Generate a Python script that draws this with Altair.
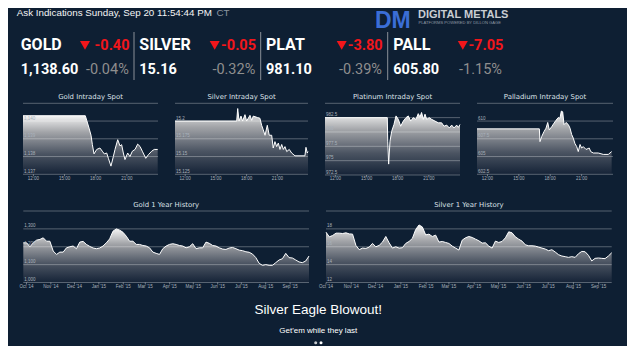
import altair as alt
import pandas as pd

BG = "#0e1f33"
OFF = 8.0


def X(v):
    return v - OFF


def Y(v):
    return v - OFF


# ---------------- data ----------------
header_text = "Ask Indications Sunday, Sep 20 11:54:44 PM"
header_tz = "CT"

metals = ["GOLD", "SILVER", "PLAT", "PALL"]
prices = ["1,138.60", "15.16", "981.10", "605.80"]
changes = ["-0.40", "-0.05", "-3.80", "-7.05"]
pcts = ["-0.04%", "-0.32%", "-0.39%", "-1.15%"]

intraday_titles = ["Gold Intraday Spot", "Silver Intraday Spot",
                   "Platinum Intraday Spot", "Palladium Intraday Spot"]
time_ticks = [12, 15, 18, 21]
time_labels = ["12:00", "15:00", "18:00", "21:00"]

gold_h = [11, 17.0, 17.13, 17.36, 17.55, 17.68, 17.84, 18.1, 18.41, 18.64, 18.83,
          19.06, 19.22, 19.47, 19.7, 19.86, 20.12, 20.34, 20.5, 20.66, 20.82, 21.08,
          21.3, 21.53, 21.79, 22.04, 22.27, 22.49, 22.82, 23.07, 23.39, 23.64, 23.97]
gold_v = [1140.3, 1140.3, 1140.05, 1139.6, 1139.2, 1138.67, 1138.15, 1138.4, 1138.48,
          1138.3, 1138.15, 1138.2, 1137.9, 1137.46, 1138.0, 1138.4, 1138.95, 1138.6,
          1138.67, 1138.2, 1137.83, 1138.2, 1138.0, 1138.3, 1138.4, 1138.7, 1138.57,
          1138.3, 1137.9, 1138.1, 1138.3, 1138.4, 1138.4]

silver_h = [11, 17.03, 17.13, 17.26, 17.45, 17.61, 17.84, 18.0, 18.33, 18.5, 18.65,
            19.05, 19.3, 19.47, 19.63, 19.8, 20.02, 20.21, 20.45, 20.6, 20.77, 20.94,
            21.1, 21.26, 21.43, 21.59, 21.75, 21.92, 22.17, 22.4, 22.73, 23.7, 23.8,
            23.93, 24]
silver_v = [15.2, 15.2, 15.2176, 15.2, 15.207, 15.2, 15.209, 15.2, 15.208, 15.201,
            15.207, 15.205, 15.204, 15.194, 15.1875, 15.18, 15.194, 15.18, 15.18,
            15.162, 15.171, 15.164, 15.169, 15.16, 15.167, 15.16, 15.164, 15.157,
            15.16, 15.155, 15.151, 15.151, 15.163, 15.155, 15.157]

plat_h = [11, 17.0, 17.04, 17.13, 17.26, 17.42, 17.64, 17.84, 18.06, 18.29, 18.54,
          18.8, 19.02, 19.25, 19.5, 19.76, 19.98, 20.15, 20.3, 20.47, 20.63, 20.79,
          21.04, 21.27, 21.59, 21.91, 22.23, 22.46, 22.72, 22.97, 23.2, 23.42, 23.68,
          23.84, 24]
plat_v = [982.5, 982.5, 978.4, 974.4, 978.4, 980.1, 981.3, 982.8, 982.2, 981.0, 981.9,
          982.5, 982.8, 981.9, 982.5, 982.2, 983.2, 982.6, 983.4, 982.2, 983.1, 982.2,
          982.5, 982.2, 981.9, 981.6, 981.6, 981.0, 981.2, 980.7, 981.2, 980.7, 981.2,
          980.8, 981.3]

pall_h = [11, 16.96, 17.02, 17.18, 17.4, 17.6, 17.76, 17.91, 18.14, 18.36, 18.55,
          18.77, 18.93, 19.06, 19.19, 19.32, 19.51, 19.73, 19.89, 20.05, 20.2, 20.37,
          20.53, 20.68, 20.85, 21.0, 21.16, 21.42, 21.73, 21.87, 22.12, 22.59, 23.07,
          23.55, 23.87]
pall_v = [608.9, 608.9, 607.1, 607.8, 608.5, 609.0, 609.8, 608.75, 609.2, 609.7,
          610.1, 610.5, 610.4, 611.4, 611.3, 609.5, 609.8, 609.5, 609.0, 608.1, 607.6,
          606.8, 606.4, 605.7, 606.7, 606.2, 606.4, 606.0, 606.2, 605.7, 605.5, 605.5,
          605.3, 605.3, 605.7]

gold_ticks = [1137, 1138, 1139, 1140]
gold_tick_labels = ["1,137", "1,138", "1,139", "1,140"]
silver_ticks = [15.125, 15.15, 15.175, 15.2]
silver_tick_labels = ["15.125", "15.15", "15.175", "15.2"]
plat_ticks = [972.5, 975, 977.5, 980, 982.5]
plat_tick_labels = ["972.5", "975", "977.5", "980", "982.5"]
pall_ticks = [602.5, 605, 607.5, 610]
pall_tick_labels = ["602.5", "605", "607.5", "610"]

history_titles = ["Gold 1 Year History", "Silver 1 Year History"]
month_starts = ["2014-10-01", "2014-11-01", "2014-12-01", "2015-01-01", "2015-02-01",
                "2015-03-01", "2015-04-01", "2015-05-01", "2015-06-01", "2015-07-01",
                "2015-08-01", "2015-09-01"]
month_labels = ["Oct '14", "Nov '14", "Dec '14", "Jan '15", "Feb '15", "Mar '15",
                "Apr '15", "May '15", "Jun '15", "Jul '15", "Aug '15", "Sep '15"]

gold_hist = [1222, 1222, 1200, 1222, 1237, 1241, 1250, 1231, 1231, 1176,
             1157, 1170, 1170, 1194, 1200, 1204, 1189, 1226, 1230, 1213,
             1202, 1193, 1189, 1193, 1204, 1222, 1244, 1287, 1300, 1293,
             1281, 1259, 1231, 1231, 1213, 1213, 1207, 1204, 1194, 1170,
             1163, 1157, 1189, 1204, 1213, 1217, 1213, 1207, 1204, 1194,
             1200, 1217, 1189, 1194, 1194, 1226, 1219, 1207, 1204, 1194,
             1187, 1185, 1193, 1196, 1189, 1181, 1178, 1172, 1169, 1159,
             1139, 1107, 1096, 1100, 1096, 1096, 1111, 1126, 1133, 1163,
             1139, 1137, 1126, 1115, 1111, 1120, 1148]
silver_hist = [17.63, 17.11, 17.26, 17.52, 17.52, 17.48, 17.56, 17.44, 17.41, 16.15,
               15.67, 15.85, 15.81, 15.96, 16.37, 16.0, 16.15, 16.52, 17.15, 16.44,
               15.85, 16.0, 15.85, 15.89, 16.37, 16.59, 16.93, 17.93, 18.44, 18.22,
               17.33, 17.41, 17.15, 17.3, 16.52, 16.59, 16.48, 16.37, 16.07, 15.85,
               15.63, 16.74, 17.0, 17.15, 17.04, 16.85, 16.67, 16.41, 16.44, 16.07,
               15.85, 16.63, 16.48, 16.59, 17.0, 17.67, 17.56, 17.11, 16.85, 16.63,
               16.22, 16.11, 16.11, 16.07, 15.96, 15.85, 15.74, 15.56, 15.67, 15.41,
               15.11, 14.96, 14.89, 14.81, 14.89, 14.81, 15.22, 15.48, 15.44, 15.04,
               14.41, 14.7, 14.74, 14.7, 14.67, 14.96, 15.33]
gold_hist_ticks = [1000, 1100, 1200, 1300]
gold_hist_labels = ["1,000", "1,100", "1,200", "1,300"]
silver_hist_ticks = [12, 14, 16, 18]
silver_hist_labels = ["12", "14", "16", "18"]

promo_title = "Silver Eagle Blowout!"
promo_sub = "Get'em while they last"

# ---------------- style ----------------
GRAD = alt.Gradient(
    gradient="linear",
    stops=[alt.GradientStop(color="#f4f4f4", offset=0),
           alt.GradientStop(color="#a2a4a8", offset=0.28),
           alt.GradientStop(color="#4b5462", offset=0.65),
           alt.GradientStop(color="#152337", offset=1)],
    x1=0, x2=0, y1=0, y2=1)
GRID = "#ffffff"
LABEL = "#a9b2bc"
TITLE_FONT = "DejaVu Sans"
RED = "#f2161b"


def txt(s, x, y, size, color, font="Liberation Sans", weight="normal",
        align="left", baseline="alphabetic"):
    return alt.Chart(pd.DataFrame({"t": [s]})).mark_text(
        align=align, baseline=baseline, font=font, fontSize=size,
        fontWeight=weight, color=color).encode(
        text="t:N", x=alt.value(X(x)), y=alt.value(Y(y)))


def panel(xv, yv, xdom, xr, ydom, yr, grid, yt, ytl, xt, xtl, title, title_y, xlab_y):
    xsc = alt.Scale(domain=xdom, range=[X(xr[0]), X(xr[1])], zero=False, nice=False)
    ysc = alt.Scale(domain=ydom, range=[Y(yr[0]), Y(yr[1])], zero=False, nice=False)
    df = pd.DataFrame({"x": xv, "v": yv})
    ex = alt.X("x:Q", scale=xsc, axis=None)
    ey = alt.Y("v:Q", scale=ysc, axis=None)
    area = alt.Chart(df).mark_area(color=GRAD).encode(x=ex, y=ey, y2=alt.datum(ydom[0]))
    line = alt.Chart(df).mark_line(color="white", strokeWidth=1).encode(x=ex, y=ey)
    gridl = alt.Chart(pd.DataFrame({"g": grid})).mark_rule(
        color=GRID, opacity=0.3, strokeWidth=1).encode(
        y=alt.Y("g:Q", scale=ysc, axis=None),
        x=alt.value(X(xr[0])), x2=alt.value(X(xr[1])))
    ylab = alt.Chart(pd.DataFrame({"g": yt, "t": ytl})).mark_text(
        align="left", baseline="bottom", font="Liberation Sans", fontSize=4.5,
        color=LABEL, dy=-0.5).encode(
        y=alt.Y("g:Q", scale=ysc, axis=None), x=alt.value(X(xr[0]) + 1), text="t:N")
    tdf = pd.DataFrame({"x": xt, "t": xtl})
    xlab = alt.Chart(tdf).mark_text(
        align="center", baseline="alphabetic", font="Liberation Sans", fontSize=4.5,
        color=LABEL).encode(x=alt.X("x:Q", scale=xsc, axis=None),
                            y=alt.value(Y(xlab_y)), text="t:N")
    ticks = alt.Chart(tdf).mark_rule(color=GRID, opacity=0.4).encode(
        x=alt.X("x:Q", scale=xsc, axis=None),
        y=alt.value(Y(yr[0])), y2=alt.value(Y(yr[0]) + 2))
    ttl = txt(title, (xr[0] + xr[1]) / 2, title_y, 6.9, "#dde2e8", font=TITLE_FONT,
              align="center")
    return alt.layer(area, gridl, line, ylab, xlab, ticks, ttl)


layers = []

# ---- intraday ----
intra = [
    (gold_h, gold_v, (23, 158), (1137, 1141), gold_ticks, gold_tick_labels, [1137, 1138, 1139, 1140, 1141], (174.3, 103.3)),
    (silver_h, silver_v, (175, 308), (15.125, 15.225), silver_ticks, silver_tick_labels, [15.125, 15.15, 15.175, 15.2, 15.225], (174.3, 103.3)),
    (plat_h, plat_v, (325, 460), (972.5, 985), plat_ticks, plat_tick_labels, [972.5, 975, 977.5, 980, 982.5, 985], (175, 103.3)),
    (pall_h, pall_v, (477, 613), (602.5, 612.5), pall_ticks, pall_tick_labels, [602.5, 605, 607.5, 610, 612.5], (174.3, 103.3)),
]
for i, (h, v, xr, ydom, yt, ytl, grid, yr) in enumerate(intra):
    layers.append(panel(h, v, [11, 24], xr, list(ydom), yr, grid, yt, ytl,
                        time_ticks, time_labels, intraday_titles[i], 99, 180))

# ---- history ----
hist = [
    (gold_hist, "2014-09-27", "2015-09-25", (23.3, 309), (1000, 1400), [1000, 1100, 1200, 1300, 1400], gold_hist_ticks, gold_hist_labels),
    (silver_hist, "2014-10-01", "2015-09-17", (326, 611.7), (12, 20), [12, 14, 16, 18, 20], silver_hist_ticks, silver_hist_labels),
]
for i, (vals, start, end, xr, ydom, grid, yt, ytl) in enumerate(hist):
    base = pd.Timestamp(start)
    dates = pd.date_range(start, end, periods=len(vals))
    days = [(d - base).total_seconds() / 86400 for d in dates]
    span = (pd.Timestamp(end) - base).total_seconds() / 86400
    mdays = [(pd.Timestamp(m) - base).total_seconds() / 86400 for m in month_starts]
    layers.append(panel(days, vals, [0, span], xr, list(ydom), (282.5, 211), grid, yt, ytl,
                        mdays, month_labels, history_titles[i], 206.5, 288))

# ---- header ----
layers.append(txt(header_text, 16.7, 15.5, 9.8, "#f4f4f4"))
layers.append(txt(header_tz, 216.5, 15.5, 9.8, "#8c96a0"))
layers.append(txt("DM", 375, 28, 23, "#3b6ed6", weight="bold"))
layers.append(txt("DIGITAL METALS", 418, 18, 11, "#c9cdd2", weight="bold"))
layers.append(txt("PLATFORMS POWERED BY DILLON GAGE", 418.5, 24, 4.1, "#8f99a3"))

# ---- price row ----
name_x = [20.7, 139.3, 266, 393.3]
chg_right = [129.5, 256, 382.7, 503.3]
pct_right = [128.8, 255.3, 382, 502]
tri_x = [85, 214.7, 341.7, 462.8]
for i in range(4):
    layers.append(txt(metals[i], name_x[i], 50, 16, "#ffffff", font="Roboto", weight="bold"))
    layers.append(txt(prices[i], name_x[i], 74, 14.5, "#ffffff", font="Roboto", weight="bold"))
    layers.append(txt(changes[i], chg_right[i], 50, 14.5, RED, font="Roboto", weight="bold",
                      align="right"))
    layers.append(txt(pcts[i], pct_right[i], 74, 14.5, "#8e8e8e", font="Roboto",
                      align="right"))
    layers.append(alt.Chart(pd.DataFrame({"m": [metals[i]]})).mark_point(
        shape="triangle-down", filled=True, size=100, color=RED, opacity=1).encode(
        x=alt.value(X(tri_x[i])), y=alt.value(Y(45.3))))

for sx in [134, 260.7, 387.7]:
    layers.append(alt.Chart(pd.DataFrame({"s": [0]})).mark_rule(
        color="#8a9098", strokeWidth=1).encode(
        x=alt.value(X(sx)), y=alt.value(Y(32)), y2=alt.value(Y(80))))

# ---- promo ----
layers.append(txt(promo_title, 318.3, 314, 13.5, "#ffffff", align="center"))
layers.append(txt(promo_sub, 318.3, 333.3, 8, "#ffffff", align="center"))
for j, (dx, col) in enumerate([(315.7, "#c8ccd0"), (321, "#ffffff")]):
    layers.append(alt.Chart(pd.DataFrame({"d": [j]})).mark_circle(
        size=9, color=col, opacity=1).encode(x=alt.value(X(dx)), y=alt.value(Y(342.7))))

chart = alt.layer(*layers).resolve_scale(x="independent", y="independent").properties(
    width=619, height=338, background=BG, padding=0,
    autosize=alt.AutoSizeParams(type="none")
).configure_view(strokeWidth=0)

chart.save("out.html", embed_options={"renderer": "svg", "actions": False})
